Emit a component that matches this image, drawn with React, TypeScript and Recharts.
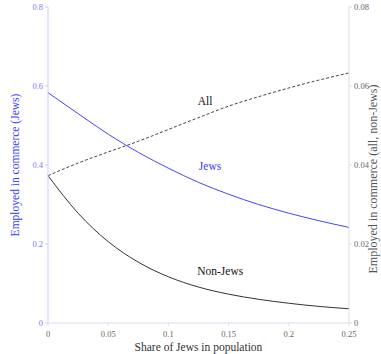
import React from "react";
import {
  LineChart,
  Line,
  XAxis,
  YAxis,
  ReferenceDot,
  Label,
} from "recharts";

// Share of Jews in the population (x)
const shares = [0, 0.025, 0.05, 0.075, 0.1, 0.125, 0.15, 0.175, 0.2, 0.225, 0.25];
// Fraction of Jews employed in commerce (left axis)
const jews = [0.583, 0.53, 0.478, 0.432, 0.392, 0.356, 0.326, 0.3, 0.278, 0.259, 0.242];
// Fraction of non-Jews employed in commerce (right axis)
const nonJews = [0.0373, 0.0278, 0.0206, 0.0154, 0.0117, 0.0091, 0.0073, 0.006, 0.005, 0.0042, 0.0036];
// Fraction of the whole population employed in commerce (right axis)
const allPop = [0.0373, 0.0405, 0.0433, 0.046, 0.049, 0.052, 0.0549, 0.0573, 0.0595, 0.0615, 0.0633];

const xTicks = [0, 0.05, 0.1, 0.15, 0.2, 0.25];
const leftTicks = [0, 0.2, 0.4, 0.6, 0.8];
const rightTicks = [0, 0.02, 0.04, 0.06, 0.08];

const data = shares.map((s, i) => ({
  share: s,
  jews: jews[i],
  nonJews: nonJews[i],
  all: allPop[i],
}));

const FONT = "'Liberation Serif', 'DejaVu Serif', serif";
const BLUE = "#3a3aff";

const LeftTitle = (props: any) => {
  const vb = props.viewBox || {};
  const cx = 15;
  const cy = vb.y + vb.height / 2;
  return (
    <text
      x={cx}
      y={cy}
      transform={`rotate(-90 ${cx} ${cy})`}
      textAnchor="middle"
      dominantBaseline="central"
      fill={BLUE}
      fontSize={11.5}
      fontFamily={FONT}
    >
      Employed in commerce (Jews)
    </text>
  );
};

const RightTitle = (props: any) => {
  const vb = props.viewBox || {};
  const cx = 373;
  const cy = vb.y + vb.height / 2 + 14;
  return (
    <text
      x={cx}
      y={cy}
      transform={`rotate(-90 ${cx} ${cy})`}
      textAnchor="middle"
      dominantBaseline="central"
      fill="#555"
      fontSize={12}
      fontFamily={FONT}
    >
      Employed in commerce (all, non-Jews)
    </text>
  );
};

export default function App() {
  return (
    <div style={{ position: "absolute", left: 0, top: 0, background: "#fff" }}>
      <LineChart
        width={381}
        height={354}
        data={data}
        margin={{ top: 7, right: 4, bottom: 0, left: 8 }}
        style={{ fontFamily: FONT }}
      >
        <XAxis
          dataKey="share"
          type="number"
          domain={[0, 0.25]}
          ticks={xTicks}
          height={31}
          stroke="#dcdcec"
          tickSize={3}
          tickMargin={5}
          tick={{ fill: "#666", fontSize: 8.5, fontFamily: FONT }}
        >
          <Label
            value="Share of Jews in population"
            position="insideBottom"
            offset={3}
            fill="#333"
            fontSize={11.5}
            fontFamily={FONT}
          />
        </XAxis>
        <YAxis
          yAxisId="left"
          domain={[0, 0.8]}
          ticks={leftTicks}
          width={40}
          stroke="#ccccff"
          tickSize={3}
          tickMargin={2}
          tick={{ fill: "#7a7aff", fontSize: 8.5, fontFamily: FONT }}
          label={<LeftTitle />}
        />
        <YAxis
          yAxisId="right"
          orientation="right"
          domain={[0, 0.08]}
          ticks={rightTicks}
          width={28}
          stroke="#dddddd"
          tickSize={3}
          tickMargin={2}
          tick={{ fill: "#666", fontSize: 8.5, fontFamily: FONT }}
          label={<RightTitle />}
        />
        <Line
          yAxisId="left"
          dataKey="jews"
          type="monotone"
          stroke="#4545ff"
          strokeWidth={1}
          dot={false}
          isAnimationActive={false}
        />
        <Line
          yAxisId="right"
          dataKey="nonJews"
          type="monotone"
          stroke="#333"
          strokeWidth={1}
          dot={false}
          isAnimationActive={false}
        />
        <Line
          yAxisId="right"
          dataKey="all"
          type="monotone"
          stroke="#444"
          strokeWidth={1}
          strokeDasharray="3 2"
          dot={false}
          isAnimationActive={false}
        />
        <ReferenceDot
          yAxisId="left"
          x={0.1304}
          y={0.563}
          r={0}
          fill="none"
          stroke="none"
          label={{ value: "All", position: "center", fill: "#111", fontSize: 11.5, fontFamily: FONT }}
        />
        <ReferenceDot
          yAxisId="left"
          x={0.1346}
          y={0.397}
          r={0}
          fill="none"
          stroke="none"
          label={{ value: "Jews", position: "center", fill: BLUE, fontSize: 11.5, fontFamily: FONT }}
        />
        <ReferenceDot
          yAxisId="left"
          x={0.143}
          y={0.131}
          r={0}
          fill="none"
          stroke="none"
          label={{ value: "Non-Jews", position: "center", fill: "#111", fontSize: 11.5, fontFamily: FONT }}
        />
      </LineChart>
    </div>
  );
}
